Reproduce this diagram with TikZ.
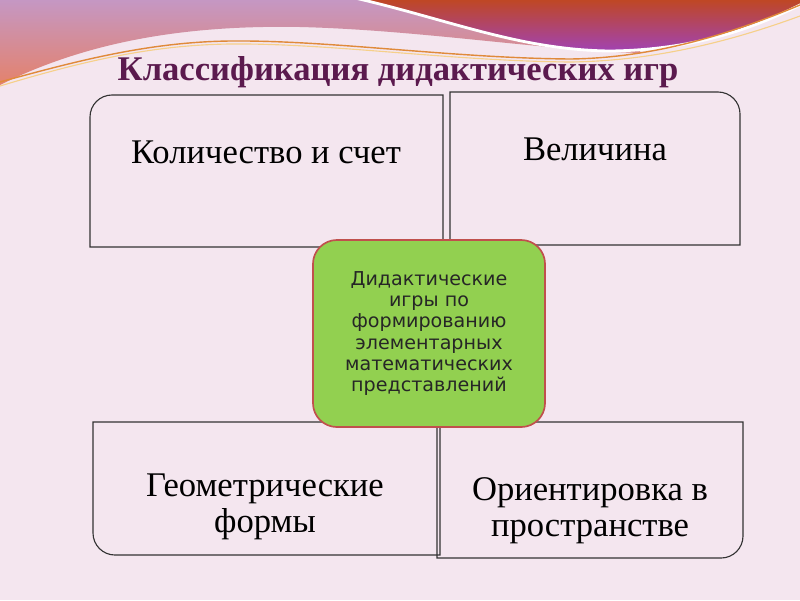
\documentclass[tikz,border=0pt]{standalone}
\usepackage{fontspec}
\setmainfont{Liberation Serif}
\newfontfamily\hubfont{DejaVu Sans}
\usepackage{tikz}
\usetikzlibrary{positioning, calc, fit}
\usepackage{xcolor}
\definecolor{slideBg}{HTML}{F4E6EF}
\definecolor{titlePlum}{HTML}{5B1A4E}
\definecolor{swooshTop}{HTML}{C597C3}
\definecolor{swooshLow}{HTML}{E4826C}
\definecolor{bandRust}{HTML}{C0471F}
\definecolor{bandViolet}{HTML}{A143B3}
\definecolor{goldDark}{HTML}{E08A3A}
\definecolor{goldLight}{HTML}{F6D08A}
\definecolor{hubGreen}{HTML}{92D050}
\definecolor{hubRed}{HTML}{C0504D}
\definecolor{cardLine}{HTML}{333333}

\begin{document}
\begin{tikzpicture}[x=0.025cm, y=-0.025cm,
        card/.style={inner sep=0pt, outer sep=0pt},
        cardline/.style={draw=cardLine, line width=0.8pt},
        cardtext/.style={align=center, inner sep=0pt, text=black, font=\fontsize{24.6}{25.5}\selectfont},
        hub/.style={rectangle, rounded corners=0.6cm, draw=hubRed, line width=1.2pt, fill=hubGreen,
            minimum width=5.8cm, minimum height=4.675cm, align=center, text=black!85,
            font=\hubfont\fontsize{13.6}{15.1}\selectfont},
        headline/.style={anchor=base, text=titlePlum, font=\bfseries\fontsize{24.6}{28}\selectfont}
      ]
      \useasboundingbox (0,0) rectangle (800,600);
      \fill[slideBg] (0,0) rectangle (800,600);
      % top swoosh
      \shade[top color=swooshTop, bottom color=swooshLow]
        (0,0) -- (0,85) .. controls (90,40) and (190,25) .. (300,27)
        .. controls (420,30) and (540,50) .. (640,53) -- (640,0) -- cycle;
      \shade[top color=bandRust, bottom color=bandViolet, draw=white, line width=2pt]
        (355,-2) .. controls (450,20) and (520,50) .. (610,51)
        .. controls (700,50) and (760,25) .. (802,4) -- (802,-2) -- cycle;
      \draw[goldDark, line width=1pt] (0,82) .. controls (80,60) and (150,42) .. (230,41)
        .. controls (330,40) and (450,58) .. (570,59) .. controls (660,58) and (740,30) .. (800,5);
      \draw[goldLight, line width=0.8pt] (0,86) .. controls (80,62) and (150,45) .. (230,44)
        .. controls (330,43) and (450,61) .. (570,62) .. controls (660,61) and (740,38) .. (800,16);
      \node[headline] (title) at (398,80) {Классификация дидактических игр};
      % four cards
      \node[card, fit={(90,95) (443,247)}] (kol) {};
      \node[card, fit={(450,92) (740,245)}] (vel) {};
      \node[card, fit={(93,422) (440,555)}] (geo) {};
      \node[card, fit={(437,422) (743,558)}] (ori) {};
      \draw[cardline] (kol.south east) -- (kol.south west) -- ($(kol.north west)+(0,22)$)
        arc[start angle=180, end angle=90, radius=0.55cm] -- (kol.north east) -- cycle;
      \draw[cardline] (vel.north west) -- ($(vel.north east)+(-22,0)$)
        arc[start angle=90, end angle=0, radius=0.55cm] -- (vel.south east) -- (vel.south west) -- cycle;
      \draw[cardline] (geo.north west) -- ($(geo.south west)+(0,-22)$)
        arc[start angle=180, end angle=270, radius=0.55cm] -- (geo.south east) -- (geo.north east) -- cycle;
      \draw[cardline] (ori.north west) -- (ori.north east) -- ($(ori.south east)+(0,-22)$)
        arc[start angle=0, end angle=-90, radius=0.55cm] -- (ori.south west) -- cycle;
      \node[cardtext, anchor=base] (kolT) at (266,163) {Количество и счет};
      \node[cardtext, anchor=base] (velT) at (595,160) {Величина};
      \node[cardtext, anchor=north] (geoT) at (265,474) {Геометрические\\формы};
      \node[cardtext, anchor=north] (oriT) at (590,477) {Ориентировка в\\пространстве};
      % centre
      \node[hub] (core) at (429,333.5) {Дидактические\\игры по\\формированию\\элементарных\\математических\\представлений};
    \end{tikzpicture}
\end{document}
